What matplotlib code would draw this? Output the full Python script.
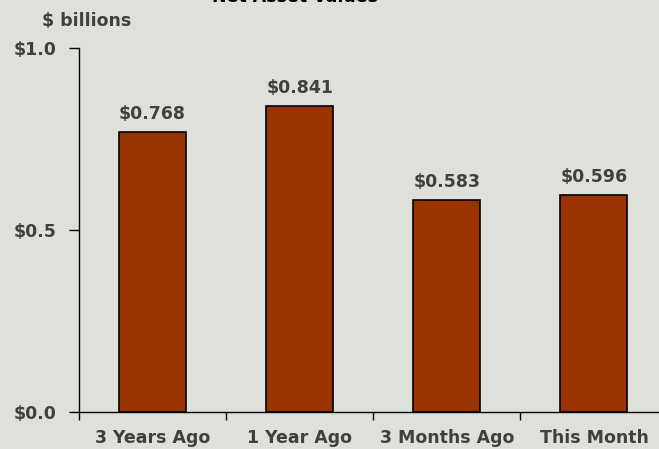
import matplotlib.pyplot as plt

categories = ["3 Years Ago", "1 Year Ago", "3 Months Ago", "This Month"]
values = [0.768, 0.841, 0.583, 0.596]
value_labels = ["$0.768", "$0.841", "$0.583", "$0.596"]
y_ticks = [0.0, 0.5, 1.0]
y_tick_labels = ["$0.0", "$0.5", "$1.0"]

bg = "#e0e0db"
bar_color = "#993300"
text_color = "#404040"
fs = 12.5

plt.rcParams["font.family"] = "DejaVu Sans"

fig = plt.figure(figsize=(6.59, 4.49), dpi=100, facecolor=bg)
ax = fig.add_axes([0.1199, 0.0824, 0.893, 0.811], facecolor=bg)

x = list(range(len(categories)))
ax.bar(x, values, width=0.455, color=bar_color, edgecolor="black", linewidth=1.2)

for xi, v, lab in zip(x, values, value_labels):
    ax.text(xi, v + 0.025, lab, ha="center", va="bottom",
            fontsize=fs, fontweight="bold", color=text_color)

ax.set_xlim(-0.5, len(categories) - 0.5)
ax.set_ylim(0, 1.0)

# category ticks sit between bars, labels centred under bars
ax.set_xticks([i - 0.5 for i in range(len(categories) + 1)])
ax.set_xticklabels([])
ax.set_xticks(x, minor=True)
ax.set_xticklabels(categories, minor=True, fontsize=fs, fontweight="bold", color=text_color)
ax.tick_params(axis="x", which="major", direction="out", length=6, width=1)
ax.tick_params(axis="x", which="minor", length=0, pad=12)

ax.set_yticks(y_ticks)
ax.set_yticklabels(y_tick_labels, fontsize=fs, fontweight="bold", color=text_color)
ax.tick_params(axis="y", direction="out", length=7, width=1, pad=9)

for side in ["top", "right"]:
    ax.spines[side].set_visible(False)
for side in ["left", "bottom"]:
    ax.spines[side].set_linewidth(1)

fig.text(0.4476, 0.9945, "Net Asset Values", ha="center", va="baseline",
         fontsize=fs, fontweight="bold", color="black")
fig.text(0.131, 0.953, "$ billions", ha="center", va="center",
         fontsize=fs, fontweight="bold", color=text_color)

fig.savefig("out.png", dpi=100, facecolor=bg)
